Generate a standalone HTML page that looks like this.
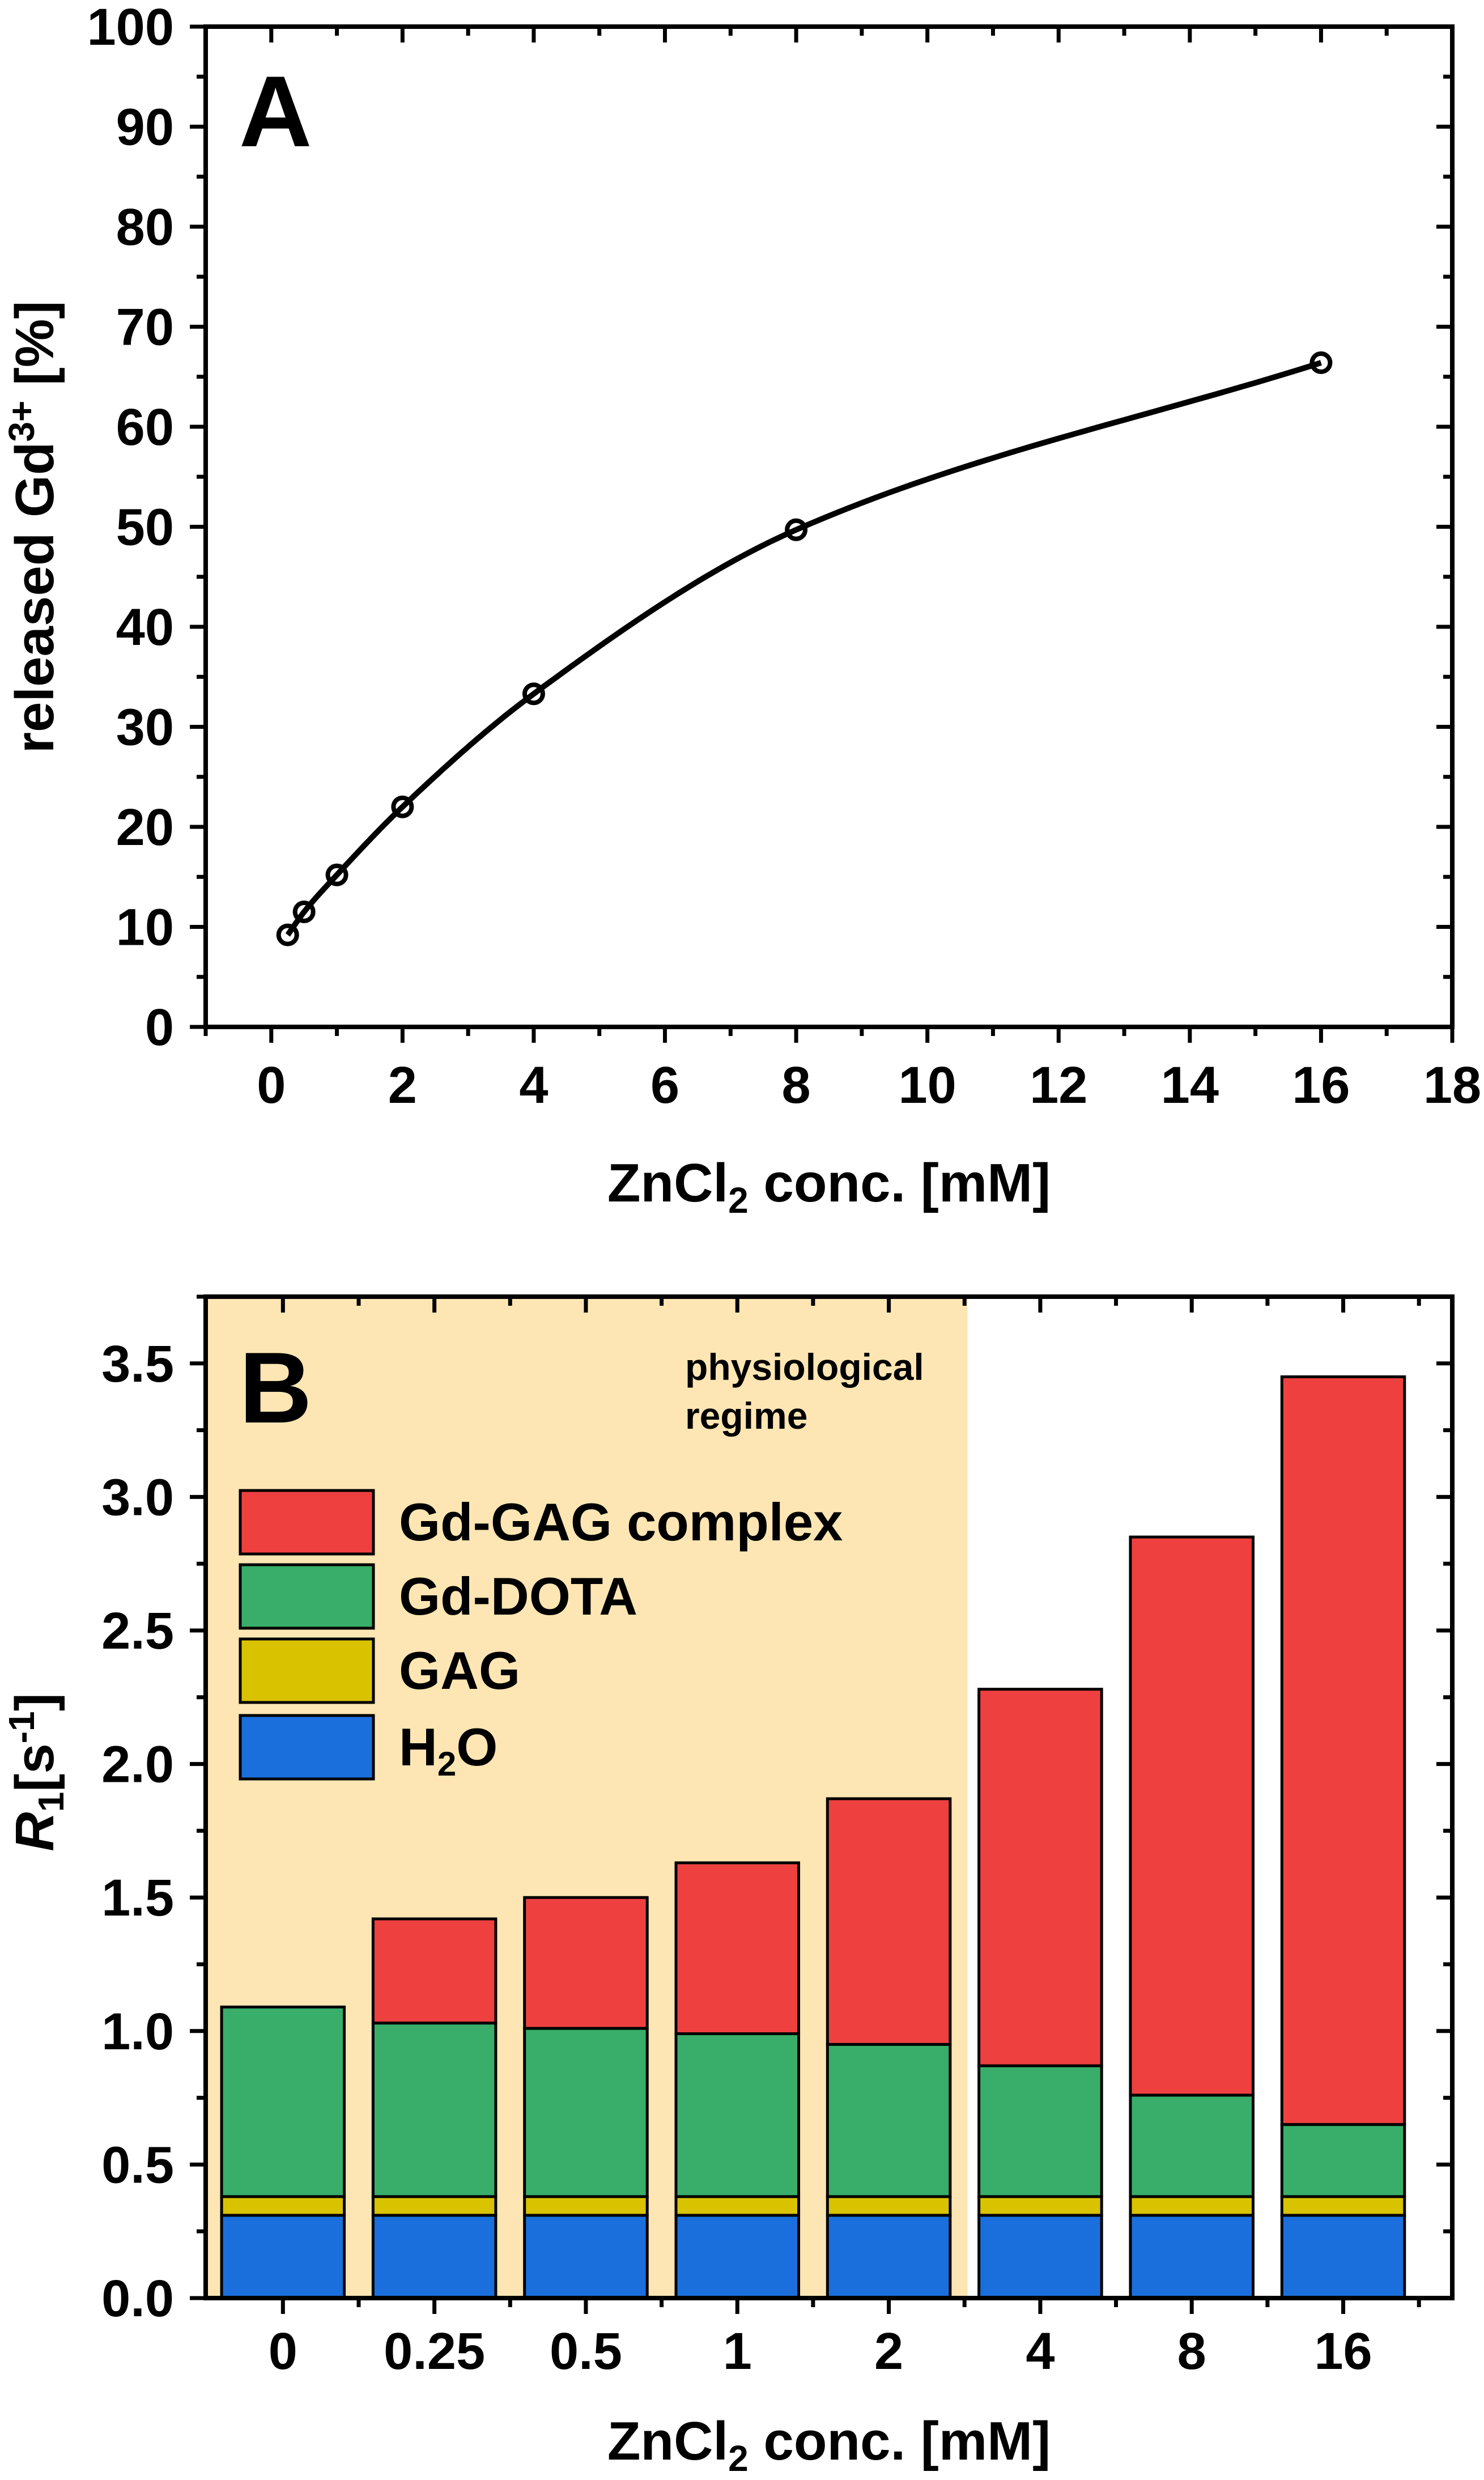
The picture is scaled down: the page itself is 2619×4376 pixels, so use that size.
<!DOCTYPE html>
<html><head><meta charset="utf-8"><style>
html,body{margin:0;padding:0;background:#fff;width:2619px;height:4376px;overflow:hidden}
svg{display:block}
text{font-family:"Liberation Sans",sans-serif;font-weight:bold;fill:#000}
</style></head><body>
<svg id="fig" width="2619" height="4376" viewBox="0 0 2619 4376" xmlns="http://www.w3.org/2000/svg"></svg>
<script>
// Panel A data
const aX = [0.25, 0.5, 1, 2, 4, 8, 16];
const aY = [9.2, 11.5, 15.2, 22.0, 33.3, 49.7, 66.4];
const aXTicks = [0,2,4,6,8,10,12,14,16,18];
const aYTicks = [0,10,20,30,40,50,60,70,80,90,100];
// Panel B data
const bCats = ["0","0.25","0.5","1","2","4","8","16"];
const bH2O = [0.31,0.31,0.31,0.31,0.31,0.31,0.31,0.31];
const bGAG = [0.07,0.07,0.07,0.07,0.07,0.07,0.07,0.07];
const bDOTA = [0.71,0.65,0.63,0.61,0.57,0.49,0.38,0.27];
const bComplex = [0.0,0.39,0.49,0.64,0.92,1.41,2.09,2.80];
const bYTicks = ["0.0","0.5","1.0","1.5","2.0","2.5","3.0","3.5"];
const bShadeEnd = 4.52;

const NS="http://www.w3.org/2000/svg";
const svg=document.getElementById('fig');
function mk(tag,attrs,parent){const e=document.createElementNS(NS,tag);for(const k in attrs)e.setAttribute(k,attrs[k]);(parent||svg).appendChild(e);return e;}

// ---------- Panel A ----------
const A={l:363,r:2563,t:47,b:1812,xmin:-1,xmax:18,ymin:0,ymax:100};
const ax=v=>A.l+(v-A.xmin)/(A.xmax-A.xmin)*(A.r-A.l);
const ay=v=>A.b-(v-A.ymin)/(A.ymax-A.ymin)*(A.b-A.t);
const gA=mk('g',{});


for(let v=-1;v<=18;v+=1){
  const major=aXTicks.includes(v);const L=major?28:16;const x=ax(v);
  const t1=mk('line',{x1:x,x2:x,y1:A.b,y2:A.b+L,stroke:'#000','stroke-width':7},gA);
  
  const t2=mk('line',{x1:x,x2:x,y1:A.t,y2:A.t+L,stroke:'#000','stroke-width':7},gA);
  
}
for(let v=0;v<=100;v+=5){
  const major=aYTicks.includes(v);const L=major?28:16;const y=ay(v);
  const t1=mk('line',{x1:A.l-L,x2:A.l,y1:y,y2:y,stroke:'#000','stroke-width':7},gA);
  
  const t2=mk('line',{x1:A.r-L,x2:A.r,y1:y,y2:y,stroke:'#000','stroke-width':7},gA);
  
}
aXTicks.forEach(v=>{const t=mk('text',{x:ax(v),y:1946,'text-anchor':'middle','font-size':92},gA);t.textContent=v;
  });
aYTicks.forEach(v=>{const t=mk('text',{x:307,y:ay(v)+32,'text-anchor':'end','font-size':92},gA);t.textContent=v;
  });
// smooth monotone cubic curve through points (in data space)
(function(){
  const n=aX.length,dl=[],m=[];
  for(let i=0;i<n-1;i++)dl.push((aY[i+1]-aY[i])/(aX[i+1]-aX[i]));
  m[0]=dl[0];m[n-1]=dl[n-2];
  for(let i=1;i<n-1;i++){const h0=aX[i]-aX[i-1],h1=aX[i+1]-aX[i];
    m[i]=(dl[i-1]*dl[i]<=0)?0:3*(h0+h1)/((2*h1+h0)/dl[i-1]+(h1+2*h0)/dl[i]);}
  let d='';
  for(let i=0;i<n-1;i++){const h=aX[i+1]-aX[i];
    for(let s=0;s<=40;s++){const t=s/40,x=aX[i]+t*h;
      const h00=2*t*t*t-3*t*t+1,h10=t*t*t-2*t*t+t,h01=-2*t*t*t+3*t*t,h11=t*t*t-t*t;
      const y=h00*aY[i]+h10*h*m[i]+h01*aY[i+1]+h11*h*m[i+1];
      d+=(d?' L':'M')+ax(x).toFixed(1)+','+ay(y).toFixed(1);}}
  const curve=mk('path',{d:d,fill:'none',stroke:'#000','stroke-width':10,'stroke-linejoin':'round'},gA);
  
})();
aX.forEach((x,i)=>{const c=mk('circle',{cx:ax(x),cy:ay(aY[i]),r:16,fill:'none',stroke:'#000','stroke-width':8},gA);
  });
const frA=mk('rect',{x:A.l,y:A.t,width:A.r-A.l,height:A.b-A.t,fill:'none',stroke:'#000','stroke-width':8},gA);

const lA=mk('text',{x:422,y:258,'font-size':178},gA);lA.textContent='A';

const xtA=mk('text',{x:1463,y:2120,'text-anchor':'middle','font-size':96},gA);
xtA.innerHTML='ZnCl<tspan font-size="64" dy="20">2</tspan><tspan dy="-20"> conc. [mM]</tspan>';

const ytA=mk('text',{x:0,y:0,'text-anchor':'middle','font-size':96,transform:'translate(94,930) rotate(-90)'},gA);
ytA.innerHTML='released Gd<tspan font-size="64" dy="-34">3+</tspan><tspan dy="34"> [%]</tspan>';


// ---------- Panel B ----------
const B={l:363,r:2563,t:2288,b:4055,xmin:-0.51,xmax:7.72,ymin:0,ymax:3.75};
const bx=v=>B.l+(v-B.xmin)/(B.xmax-B.xmin)*(B.r-B.l);
const by=v=>B.b-(v-B.ymin)/(B.ymax-B.ymin)*(B.b-B.t);
const gB=mk('g',{});


const sh=mk('rect',{x:B.l,y:B.t,width:bx(bShadeEnd)-B.l,height:B.b-B.t,fill:'#fde6b3'},gB);

const shT=mk('text',{x:1209,y:2435,'font-size':66},gB);shT.textContent='physiological';

const shT2=mk('text',{x:1209,y:2521,'font-size':66},gB);shT2.textContent='regime';

const colors={h2o:'#1a6fdc',gag:'#d9c300',dota:'#38ae6a',cx:'#ef4040'};
const bw=0.81;
bCats.forEach((c,i)=>{
  let base=0;
  [[bH2O,colors.h2o,'bar-h2o'],[bGAG,colors.gag,'bar-gag'],[bDOTA,colors.dota,'bar-gd-dota'],[bComplex,colors.cx,'bar-gd-gag-complex']].forEach(s=>{
    const v=s[0][i];if(v<=0)return;
    const r=mk('rect',{x:bx(i-bw/2),y:by(base+v),width:bx(i+bw/2)-bx(i-bw/2),height:by(base)-by(base+v),fill:s[1],stroke:'#000','stroke-width':5},gB);
    
    base+=v;
  });
  const t=mk('text',{x:bx(i),y:4180,'text-anchor':'middle','font-size':92},gB);t.textContent=c;
  
});
for(let k=0;k<=15;k++){
  const v=k*0.25;const major=k%2===0;const L=major?28:16;const y=by(v);
  const t1=mk('line',{x1:B.l-L,x2:B.l,y1:y,y2:y,stroke:'#000','stroke-width':7},gB);
  
  const t2=mk('line',{x1:B.r-L,x2:B.r,y1:y,y2:y,stroke:'#000','stroke-width':7},gB);
  
}
bYTicks.forEach(s=>{const t=mk('text',{x:307,y:by(parseFloat(s))+32,'text-anchor':'end','font-size':92},gB);t.textContent=s;
  });
for(let k=0;k<=15;k++){
  const v=k*0.5;const major=k%2===0;const L=major?28:16;const x=bx(v);
  if(x>B.r)continue;
  const t1=mk('line',{x1:x,x2:x,y1:B.b,y2:B.b+L,stroke:'#000','stroke-width':7},gB);
  
  const t2=mk('line',{x1:x,x2:x,y1:B.t,y2:B.t+L,stroke:'#000','stroke-width':7},gB);
  
}
const frB=mk('rect',{x:B.l,y:B.t,width:B.r-B.l,height:B.b-B.t,fill:'none',stroke:'#000','stroke-width':8},gB);

const lB=mk('text',{x:422,y:2510,'font-size':178},gB);lB.textContent='B';

const leg=[['Gd-GAG complex',colors.cx,2630],['Gd-DOTA',colors.dota,2761],['GAG',colors.gag,2892],['H2O',colors.h2o,3027]];
leg.forEach(e=>{
  const r=mk('rect',{x:424,y:e[2],width:235,height:112,fill:e[1],stroke:'#000','stroke-width':5},gB);
  
  const t=mk('text',{x:704,y:e[2]+88,'font-size':94},gB);
  if(e[0]==='H2O'){t.innerHTML='H<tspan font-size="60" dy="18">2</tspan><tspan dy="-18">O</tspan>';}else t.textContent=e[0];
  
});
const xtB=mk('text',{x:1463,y:4340,'text-anchor':'middle','font-size':96},gB);
xtB.innerHTML='ZnCl<tspan font-size="64" dy="20">2</tspan><tspan dy="-20"> conc. [mM]</tspan>';

const ytB=mk('text',{x:0,y:0,'text-anchor':'middle','font-size':96,transform:'translate(94,3127) rotate(-90)'},gB);
ytB.innerHTML='<tspan font-style="italic">R</tspan><tspan font-size="64" dy="18">1</tspan><tspan dy="-18">[s</tspan><tspan font-size="64" dy="-34">-1</tspan><tspan dy="34">]</tspan>';

</script>
</body></html>
